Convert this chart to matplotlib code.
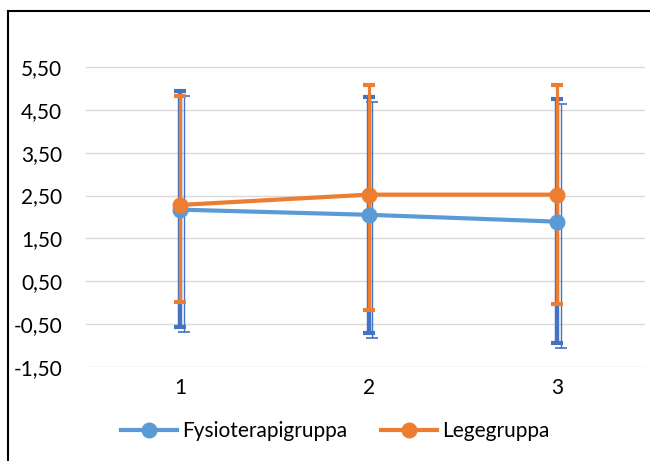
import matplotlib
matplotlib.use("Agg")
import matplotlib.pyplot as plt
import matplotlib.transforms as mtransforms
from matplotlib.lines import Line2D
from matplotlib.ticker import FuncFormatter

# data
categories = ["1", "2", "3"]
fysio_mean = [2.17, 2.05, 1.89]
fysio_err_lo = [2.73, 2.75, 2.82]
fysio_err_hi = [2.77, 2.75, 2.86]
lege_mean = [2.28, 2.52, 2.52]
lege_err_lo = [2.26, 2.70, 2.54]
lege_err_hi = [2.54, 2.55, 2.55]
yticks = [-1.5, -0.5, 0.5, 1.5, 2.5, 3.5, 4.5, 5.5]

plt.rcParams['font.family'] = ['Lato', 'DejaVu Sans']

W, H = 650, 461
fig = plt.figure(figsize=(W / 100, H / 100), dpi=100)
ax = fig.add_axes([86 / W, 1 - 367 / H, (645 - 86) / W, (367 - 24) / H])

x = [1, 2, 3]
blue_line = "#5B9BD5"
blue_err = "#4472C4"
orange = "#ED7D31"

# blue error bars: thick line plus thin offset line (Excel "thick-thin" style)
ax.errorbar(x, fysio_mean, yerr=[fysio_err_lo, fysio_err_hi], fmt="none",
            ecolor=blue_err, elinewidth=3.2, capsize=4.5, capthick=3, zorder=2)
shift = mtransforms.offset_copy(ax.transData, fig=fig, x=3.5, y=-5, units="dots")
ax.errorbar(x, fysio_mean, yerr=[fysio_err_lo, fysio_err_hi], fmt="none",
            ecolor=blue_err, elinewidth=1, capsize=4.5, capthick=1.2,
            transform=shift, zorder=2)
ax.errorbar(x, lege_mean, yerr=[lege_err_lo, lege_err_hi], fmt="none",
            ecolor=orange, elinewidth=2.3, capsize=4.5, capthick=3, zorder=3)

ax.plot(x, fysio_mean, color=blue_line, lw=3, marker="o", ms=10.5,
        label="Fysioterapigruppa", zorder=4)
ax.plot(x, lege_mean, color=orange, lw=3, marker="o", ms=10.5,
        label="Legegruppa", zorder=5)

ax.set_xlim(0.5, 3.467)
ax.set_ylim(-1.5, 6.5)
ax.set_xticks(x)
ax.set_xticklabels(categories)
ax.set_yticks(yticks)
ax.yaxis.set_major_formatter(FuncFormatter(lambda v, p: f"{v:.2f}".replace(".", ",")))
ax.grid(axis="y", color="#D9D9D9", lw=1)
ax.set_axisbelow(True)
for s in ["top", "right", "left", "bottom"]:
    ax.spines[s].set_visible(False)
ax.tick_params(axis="both", length=0, labelsize=15, colors="#000000")
ax.tick_params(axis="y", pad=17)
ax.tick_params(axis="x", pad=8)

fig.legend(loc="center", bbox_to_anchor=(335 / W, 1 - 431 / H), ncol=2,
           frameon=False, fontsize=15, handlelength=2.7, handletextpad=0.25,
           columnspacing=1.6)

# frame lines from the screenshot
fig.add_artist(Line2D([8 / W, 1], [1 - 11 / H, 1 - 11 / H], color="black", lw=1.5))
fig.add_artist(Line2D([8 / W, 8 / W], [0, 1 - 11 / H], color="black", lw=1.5))

fig.savefig("out.png", dpi=100)
